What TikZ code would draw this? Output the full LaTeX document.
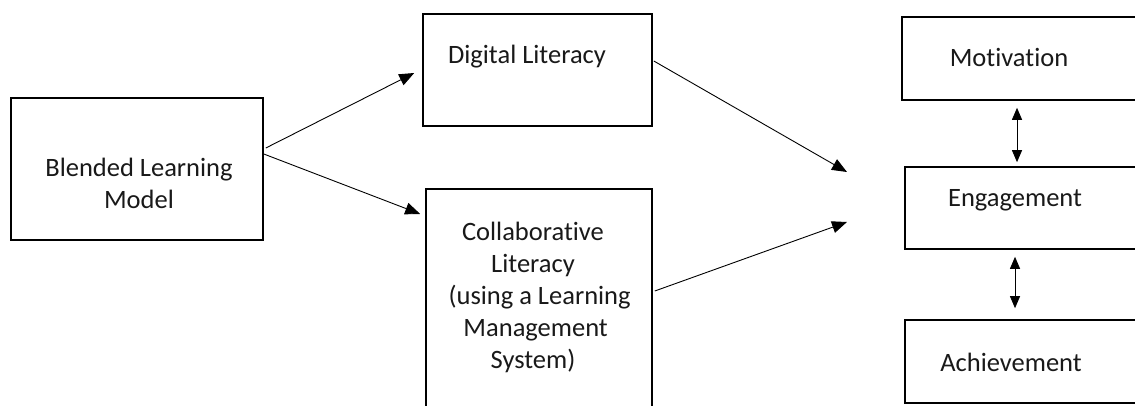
\documentclass[tikz,border=0pt]{standalone}
\usepackage{fontspec}
\setmainfont{Carlito}[Ligatures=NoCommon]
\usetikzlibrary{arrows.meta}
\begin{document}
\begin{tikzpicture}[x=1pt,y=-1pt,
  boxnode/.style={draw=black,line width=1.6pt,rectangle,inner sep=0pt},
  txt/.style={font=\fontsize{26.5}{32}\selectfont,text=black!90,align=center,inner sep=0pt},
  arr/.style={line width=0.9pt,-{Triangle[length=15pt,width=12pt]}},
  darr/.style={line width=0.9pt,{Triangle[length=12pt,width=10pt]}-{Triangle[length=12pt,width=10pt]}}]
\clip (0,0) rectangle (1135,406);
\useasboundingbox (0,0) rectangle (1135,406);
% boxes
\node[boxnode,minimum width=252pt,minimum height=142pt] (B) at (137,169) {};
\node[boxnode,minimum width=229pt,minimum height=112pt] (D) at (537.5,70) {};
\node[boxnode,minimum width=226pt,minimum height=241pt] (C) at (539,309.5) {};
\node[boxnode,minimum width=243pt,minimum height=83pt] (M) at (1023.5,58.5) {};
\node[boxnode,minimum width=240pt,minimum height=82pt] (E) at (1025,208) {};
\node[boxnode,minimum width=240pt,minimum height=83pt] (A) at (1025,361.5) {};
% texts
\node[txt] (Bt) at (139,183) {Blended Learning\\Model};
\node[txt] (Dt) at (527,57) {Digital Literacy};
\node[txt] (Ct) at (533,297) {Collaborative\\Literacy\\\hspace*{0.5em}(using a Learning\\\hspace*{0.2em}Management\\System)};
\node[txt] (Mt) at (1009,57) {Motivation};
\node[txt] (Et) at (1015,200) {Engagement};
\node[txt] (At) at (1011,362) {Achievement};
% free ends
\coordinate (t1) at (847,172);
\coordinate (t2) at (847,222);
% connectors
\draw[arr] ([xshift=2pt,yshift=21pt]B.east) -- ([xshift=-8pt,yshift=-3pt]D.west);
\draw[arr] ([xshift=0pt,yshift=15pt]B.east) -- ([xshift=-5pt]C.west |- 0,214);
\draw[arr] ([xshift=1pt,yshift=9pt]D.east) -- (t1);
\draw[arr] ([xshift=2pt,yshift=18.5pt]C.east) -- (t2);
\draw[darr,shorten <=7pt,shorten >=4pt] ([xshift=-6.5pt]M.south) -- ([xshift=-8pt]E.north);
\draw[darr,shorten <=7pt,shorten >=11pt] ([xshift=-10pt]E.south) -- ([xshift=-10pt]A.north);
\end{tikzpicture}
\end{document}
